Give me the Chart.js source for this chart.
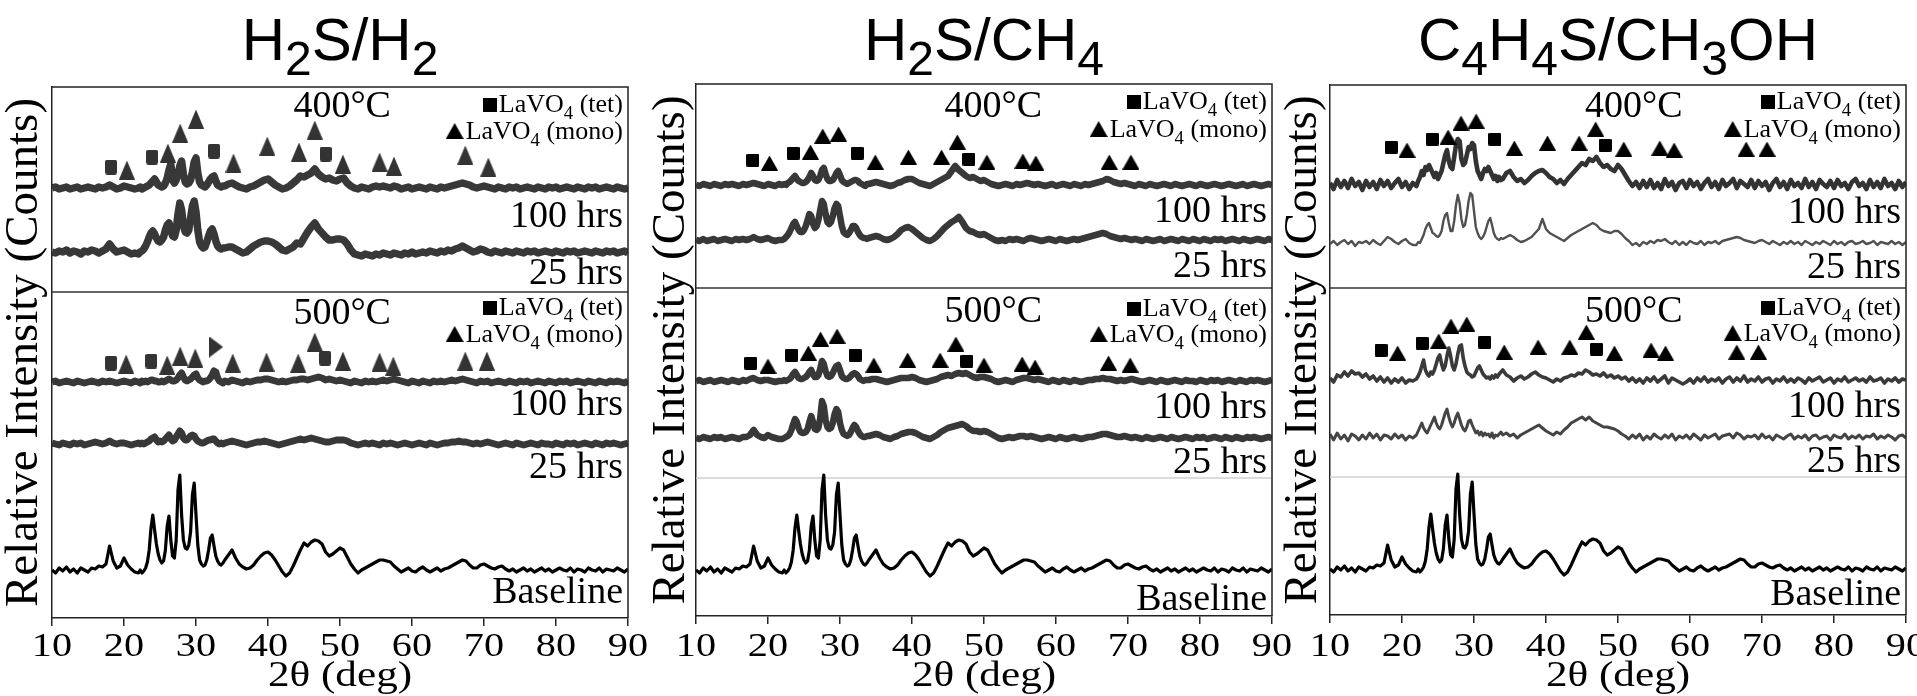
<!DOCTYPE html>
<html>
<head>
<meta charset="utf-8">
<title>LaVO4 XRD after sulfur exposure</title>
<script src="https://cdn.jsdelivr.net/npm/chart.js@4.4.0/dist/chart.umd.min.js"></script>
<style>
  html, body { margin: 0; padding: 0; background: #fff; overflow: hidden; }
  body { width: 1917px; height: 696px; position: relative; }
  canvas { position: absolute; top: 0; }
</style>
</head>
<body>
<canvas id="p1" width="660" height="696" style="left:0px"></canvas>
<canvas id="p2" width="660" height="696" style="left:636px"></canvas>
<canvas id="p3" width="660" height="696" style="left:1270px"></canvas>
<script>
// 2-theta grid shared by every pattern (finer steps through the main reflections)
const twoTheta = [
  10, 10.5, 11, 11.5, 12, 12.5, 13, 13.5, 14, 14.5,
  15, 15.5, 16, 16.5, 17, 17.5, 18, 18.5, 19, 19.5,
  20, 20.5, 21, 21.5,
  22, 22.25, 22.5, 22.75, 23, 23.25, 23.5, 23.75, 24, 24.25,
  24.5, 24.75, 25, 25.25, 25.5, 25.75, 26, 26.25, 26.5, 26.75,
  27, 27.25, 27.5, 27.75, 28, 28.25, 28.5, 28.75, 29, 29.25,
  29.5, 29.75, 30, 30.25, 30.5, 30.75, 31, 31.25, 31.5, 31.75,
  32, 32.25, 32.5, 32.75, 33, 33.25, 33.5, 33.75,
  34, 34.5, 35, 35.5, 36, 36.5, 37, 37.5, 38, 38.5,
  39, 39.5, 40, 40.5, 41, 41.5, 42, 42.5, 43, 43.5,
  44, 44.5, 45, 45.5, 46, 46.5, 47, 47.5, 48, 48.5,
  49, 49.5, 50, 50.5, 51, 51.5, 52, 52.5, 53, 53.5,
  54, 54.5, 55, 55.5, 56, 56.5, 57, 57.5, 58, 58.5,
  59, 59.5, 60, 60.5, 61, 61.5, 62, 62.5, 63, 63.5,
  64, 64.5, 65, 65.5, 66, 66.5, 67, 67.5, 68, 68.5,
  69, 69.5, 70, 70.5, 71, 71.5, 72, 72.5, 73, 73.5,
  74, 74.5, 75, 75.5, 76, 76.5, 77, 77.5, 78, 78.5,
  79, 79.5, 80, 80.5, 81, 81.5, 82, 82.5, 83, 83.5,
  84, 84.5, 85, 85.5, 86, 86.5, 87, 87.5, 88, 88.5,
  89, 89.5, 90
];
const xTicks = [10, 20, 30, 40, 50, 60, 70, 80, 90];
const xTickLabels = ['10', '20', '30', '40', '50', '60', '70', '80', '90'];

// fresh (unexposed) LaVO4 pattern, same in all three panels
const freshLaVO4 = [
  0,-3,2,-1,3,-2,1,-3,2,0,
  -2,2,1,4,3,6,24,9,2,4,
  12,5,1,-2,
  -3,0,-3,-1,2,8,20,42,55,40,
  26,16,10,7,9,20,44,54,30,14,
  12,30,80,95,55,30,22,21,25,38,
  75,87,55,25,10,6,4,5,10,20,
  32,35,24,14,9,6,5,7,
  10,15,20,12,6,3,1,2,5,10,
  14,17,18,15,10,4,-2,-6,-3,4,
  12,20,27,24,28,30,29,26,18,14,
  16,19,22,20,13,6,1,-3,0,2,
  4,6,8,10,10,9,8,4,1,-2,
  0,2,-1,-2,1,3,0,-2,0,2,
  -1,1,2,4,6,8,10,9,5,2,
  2,5,6,4,2,1,3,4,1,-1,
  1,-2,0,2,-1,1,-2,0,2,-1,
  1,-2,0,2,0,-1,2,-2,1,0,
  -2,2,0,-1,2,-2,1,0,-1,2,
  0,-2,1
];

// H2S/H2 exposure
const h2_400_100 = [
  0,1,-1,0,1,-1,0,1,-1,0,
  1,0,-1,1,0,1,3,1,-1,0,
  2,1,0,-1,
  0,1,-1,0,1,2,3,5,7,9,
  6,3,2,1,2,5,10,18,24,8,
  5,8,14,22,27,14,6,4,5,8,
  16,26,30,15,6,3,2,1,3,6,
  9,11,12,7,3,2,1,2,
  2,4,5,3,1,0,-1,1,2,4,
  6,8,9,6,3,1,-1,0,2,5,
  8,12,11,13,15,19,14,11,9,10,
  8,7,9,10,5,2,0,-1,1,0,
  -1,1,2,1,2,1,0,2,1,-1,
  0,1,-1,0,1,0,-1,1,0,-1,
  1,0,1,2,3,4,5,4,3,1,
  0,1,2,1,0,-1,1,0,-1,1,
  0,1,-1,0,1,0,-1,1,0,-1,
  1,0,1,-1,0,1,0,-1,1,0,
  -1,1,0,1,-1,0,1,0,-1,1,
  0,-1,0
];
const h2_400_25 = [
  0,-1,1,0,2,-1,1,0,-2,1,
  0,2,1,-1,1,3,8,3,0,1,
  2,0,-2,-1,
  -2,0,1,3,6,10,15,19,21,18,
  14,11,10,12,15,22,27,29,22,16,
  15,22,38,49,42,26,20,19,22,34,
  46,51,40,22,10,6,4,5,10,16,
  21,23,18,11,6,4,3,4,
  4,5,5,3,1,-1,0,3,6,8,
  10,11,11,10,8,5,2,1,3,5,
  9,8,14,20,25,29,23,19,15,12,
  12,13,13,12,8,2,-2,-3,-4,-2,
  -3,-4,-2,-3,-1,-2,-3,-1,-2,-3,
  -1,-2,0,-2,-1,0,-1,1,0,-1,
  1,0,2,1,3,4,6,4,2,0,
  1,3,2,0,-1,1,0,-1,1,0,
  -1,1,0,-1,1,0,1,-1,0,1,
  0,-1,1,0,-1,1,0,1,-1,0,
  1,0,-1,1,0,-1,1,0,1,-1,
  0,1,-1
];
const h2_500_100 = [
  0,1,-1,0,1,0,-1,1,0,-1,
  0,1,0,-1,1,0,1,0,-1,0,
  1,0,-1,1,
  0,-1,1,0,1,0,1,2,2,1,
  1,0,0,1,0,1,2,3,2,1,
  1,2,4,7,9,5,2,1,2,3,
  5,7,8,4,2,1,0,1,1,2,
  4,7,11,10,4,1,0,-1,
  1,0,2,1,0,-1,1,0,1,2,
  2,3,3,2,1,0,1,0,1,2,
  2,3,3,2,3,4,5,4,2,3,
  2,1,2,1,0,-1,1,0,-1,1,
  0,1,0,1,2,1,2,3,2,1,
  0,-1,1,0,-1,1,0,-1,1,0,
  1,0,1,2,1,2,3,2,1,0,
  -1,1,0,1,-1,0,1,0,-1,1,
  0,-1,1,0,1,-1,0,1,0,-1,
  1,0,-1,1,0,1,-1,0,1,0,
  -1,1,0,-1,1,0,-1,1,0,1,
  0,-1,1
];
const h2_500_25 = [
  1,0,-1,1,0,-1,1,0,1,-1,
  0,1,2,1,0,1,3,1,0,1,
  1,0,-1,0,
  1,0,1,0,1,2,3,5,6,7,
  4,2,3,2,3,5,7,9,5,3,
  4,7,10,13,11,6,4,4,6,8,
  9,8,5,3,2,1,1,2,3,4,
  4,5,5,3,1,0,1,0,
  1,2,3,2,1,0,-1,0,1,2,
  2,3,2,1,0,-1,0,1,2,3,
  4,5,4,5,6,5,4,3,2,2,
  3,4,4,4,3,1,0,-1,0,1,
  0,1,0,-1,1,0,1,0,-1,0,
  1,0,-1,0,1,0,-1,1,0,-1,
  0,1,1,2,2,3,2,2,1,0,
  1,0,1,2,1,0,-1,0,1,0,
  -1,1,0,-1,0,1,0,-1,1,0,
  0,-1,1,0,-1,1,0,1,-1,0,
  1,0,-1,1,0,-1,1,0,1,0,
  -1,0,1
];

// H2S/CH4 exposure
const ch4_400_100 = [
  0,-1,1,0,-1,1,0,-1,1,0,
  1,0,-1,1,0,1,2,1,0,-1,
  1,0,-1,1,
  0,1,0,2,3,5,7,9,6,4,
  3,2,2,3,5,8,12,9,5,4,
  5,9,15,17,11,6,4,4,5,8,
  12,14,10,5,3,2,1,2,3,4,
  5,5,4,2,1,0,-1,1,
  1,2,3,2,1,0,-1,0,2,3,
  5,6,6,4,2,1,0,-1,1,3,
  5,7,9,14,19,15,12,9,7,8,
  6,4,5,3,1,0,-1,0,1,0,
  -1,1,0,1,2,1,0,1,0,-1,
  0,1,-1,0,1,0,-1,1,0,-1,
  1,0,1,2,3,4,6,5,3,2,
  1,2,1,0,-1,1,0,-1,1,0,
  -1,0,1,0,-1,1,0,-1,0,1,
  0,-1,1,0,-1,0,1,0,-1,0,
  1,0,-1,0,1,-1,0,1,0,-1,
  0,1,0
];
const ch4_400_25 = [
  0,-1,1,-1,0,1,-1,0,1,0,
  -1,1,0,1,0,1,3,1,0,1,
  2,0,-1,0,
  0,1,3,5,8,12,16,18,14,10,
  8,8,10,14,20,26,24,16,12,14,
  20,30,39,36,26,18,16,18,24,32,
  36,34,24,14,8,6,5,7,10,14,
  14,12,8,5,3,2,2,1,
  2,3,4,3,1,0,1,3,6,10,
  12,13,11,8,5,2,0,-1,1,4,
  8,12,15,18,20,23,18,12,9,8,
  6,5,6,4,2,0,-1,0,-1,1,
  0,1,0,-1,1,2,1,0,-1,0,
  1,0,-1,1,0,-1,0,1,0,1,
  2,3,4,5,6,7,6,4,3,2,
  1,2,1,0,1,0,-1,1,0,-1,
  0,1,-1,0,1,0,-1,1,0,-1,
  1,0,-1,1,0,-1,1,0,1,-1,
  0,1,0,-1,1,0,-1,0,1,0,
  -1,1,0
];
const ch4_500_100 = [
  0,1,-1,0,1,-1,0,1,0,-1,
  1,0,-1,1,0,2,3,1,0,1,
  1,0,-1,0,
  0,1,0,1,2,4,7,9,6,3,
  2,2,3,4,6,9,11,7,4,4,
  6,12,20,17,10,5,4,5,8,12,
  15,16,11,5,3,2,2,3,5,7,
  8,7,5,2,1,0,1,1,
  1,2,2,1,0,-1,0,1,2,3,
  3,3,4,3,1,0,-1,0,1,2,
  4,5,6,5,7,8,7,8,6,4,
  3,4,4,3,2,0,-1,0,1,0,
  -1,1,2,3,3,2,1,2,1,0,
  -1,1,0,-1,1,0,-1,1,0,-1,
  0,1,1,2,2,3,2,2,1,0,
  1,0,1,2,1,0,-1,0,1,0,
  -1,1,0,-1,0,1,0,-1,1,0,
  0,-1,1,0,-1,1,0,1,-1,0,
  1,0,-1,1,0,-1,1,0,1,0,
  -1,0,1
];
const ch4_500_25 = [
  0,-1,1,0,-1,1,0,1,-1,0,
  1,0,-1,1,1,3,8,3,1,0,
  3,1,0,-1,
  -1,0,1,2,4,8,14,19,16,10,
  6,5,5,6,9,16,22,16,9,8,
  10,20,37,32,18,11,9,10,15,24,
  29,26,15,8,4,3,2,3,6,10,
  13,11,7,4,2,1,1,2,
  2,3,4,3,1,0,-1,1,2,4,
  5,6,6,5,3,1,0,-1,1,3,
  6,8,10,11,12,13,14,12,9,7,
  7,6,7,6,4,2,0,-1,0,1,
  0,1,2,2,1,2,1,0,-1,0,
  1,0,-1,1,0,-1,0,1,0,-1,
  0,1,1,2,3,4,4,3,2,1,
  1,2,1,0,1,0,-1,1,0,-1,
  0,1,0,-1,1,0,-1,0,1,0,
  -1,1,0,1,-1,0,1,0,-1,1,
  0,-1,1,0,-1,1,0,1,0,-1,
  0,1,0
];

// C4H4S/CH3OH exposure
const thio_400_100 = [
  2,-4,5,-2,4,-3,6,-1,3,-5,
  4,-2,3,-4,5,-1,4,-3,2,6,
  -2,3,-4,2,
  -1,4,8,14,10,18,15,20,16,12,
  8,12,6,10,14,22,30,35,24,18,
  16,28,40,46,44,26,20,22,30,38,
  36,42,40,24,14,10,6,12,16,14,
  18,14,10,6,9,4,8,5,
  6,12,14,8,4,6,2,5,9,12,
  14,15,12,8,6,2,5,1,6,10,
  14,18,22,20,26,24,28,22,18,20,
  16,14,20,16,10,4,-1,3,-3,4,
  -2,5,-3,2,-4,6,-1,3,-5,2,
  4,-3,5,-1,3,-4,2,6,-2,3,
  -4,5,-1,2,6,-3,4,1,-2,5,
  -3,4,-1,3,-5,2,6,-2,3,-4,
  5,-1,2,-3,6,-2,3,-4,5,1,
  -2,4,-3,5,-1,2,-4,3,6,-1,
  2,-4,5,-2,3,-3,6,-1,2,-4,
  4,-2,3
];
const thio_400_25 = [
  -1,2,-2,1,3,-1,2,-3,1,0,
  2,-1,3,0,-2,2,6,4,1,-1,
  2,4,0,-2,
  -2,1,0,4,8,14,18,20,15,10,
  9,7,6,8,12,22,28,30,20,12,
  12,22,38,48,40,24,16,18,28,42,
  50,48,32,16,10,6,4,6,10,16,
  22,25,18,10,6,4,3,5,
  4,6,8,6,3,1,2,4,6,10,
  14,24,14,10,8,6,4,2,5,8,
  10,12,14,16,18,20,18,14,12,11,
  10,12,12,9,5,2,-2,0,-3,1,
  -1,2,0,3,2,4,1,-1,2,-2,
  1,-2,2,0,-1,2,-2,1,0,2,
  -1,2,3,4,5,6,5,3,2,1,
  0,2,3,1,-1,2,0,-2,1,-1,
  2,-1,1,-2,2,0,-2,1,-1,2,
  0,-2,2,-1,1,-2,1,2,-1,0,
  2,-1,0,2,-2,1,0,-1,2,-1,
  1,-2,1
];
const thio_500_100 = [
  2,-2,5,3,8,4,9,6,7,3,
  6,1,4,-1,3,-2,2,-3,1,-2,
  2,-3,0,-1,
  1,4,8,14,20,10,6,4,8,6,
  10,16,22,25,16,10,14,24,32,24,
  14,10,16,26,34,35,22,14,8,6,
  5,3,4,8,12,14,10,6,4,2,
  3,1,4,2,5,3,6,8,
  10,5,3,-1,2,4,1,3,6,8,
  5,3,2,0,-2,1,-1,2,3,5,
  4,7,6,10,8,5,6,4,7,3,
  5,2,4,1,3,-1,2,-2,1,-3,
  2,-1,3,-2,1,4,-3,2,0,-2,
  -4,-2,1,-3,2,-1,3,-2,1,-1,
  2,-3,1,3,-2,2,-1,4,-2,1,
  -1,3,-2,1,2,-3,1,-1,3,-2,
  1,-2,2,0,-3,2,-1,1,3,-2,
  0,2,-3,1,-1,3,-2,0,2,-1,
  1,-2,3,-1,0,2,-3,1,-1,2,
  -2,1,0
];
const thio_500_25 = [
  3,-3,4,-2,2,-4,3,1,-3,2,
  -2,4,-1,3,-3,2,1,-2,3,-1,
  2,-3,1,-1,
  2,6,10,14,9,6,4,8,12,16,
  20,14,10,8,12,18,24,28,20,14,
  10,14,20,24,18,12,8,6,10,16,
  17,12,8,4,6,2,5,1,4,2,
  3,0,4,-1,2,1,3,5,
  2,4,1,3,-1,2,4,6,8,10,
  12,9,6,4,2,5,3,7,10,14,
  16,18,20,17,20,16,14,12,10,10,
  9,8,6,3,1,-2,2,-1,3,-3,
  1,-2,3,0,-2,2,-1,3,-3,1,
  -1,2,-2,3,0,-3,2,-1,1,3,
  -2,1,2,3,-1,4,2,-2,1,0,
  2,-2,3,-1,1,-3,2,0,-2,1,
  3,-2,1,-1,2,-3,1,2,-2,0,
  1,-3,2,0,-1,3,-2,1,-1,2,
  -2,1,0,3,-2,1,-1,2,0,-3,
  1,2,-1
];

// reflection markers: LaVO4 tetragonal (tet) and monoclinic (mono)
const h2Tet400X = [18.2, 23.9, 32.5, 48.0];
const h2Tet400Y = [451, 461, 467, 464];
const h2Mono400X = [20.4, 26.1, 27.8, 30.0, 35.2, 39.9, 44.3, 46.5, 50.4, 55.5, 57.5, 67.4, 70.6];
const h2Mono400Y = [448, 465, 485, 499, 455, 472, 466, 488, 454, 456, 452, 463, 451];
const h2Tet500X = [18.2, 23.8, 47.9];
const h2Tet500Y = [255, 257, 260];
const h2Mono500X = [20.3, 26.0, 27.8, 29.9, 35.1, 39.8, 44.2, 46.5, 50.4, 55.5, 57.4, 67.4, 70.4];
const h2Mono500Y = [254, 253, 262, 260, 255, 256, 255, 276, 257, 256, 252, 257, 257];
const h2Other500X = [32.8];
const h2Other500Y = [271];

const ch4Tet400X = [17.9, 23.5, 32.4, 47.9];
const ch4Tet400Y = [456, 463, 463, 457];
const ch4Mono400X = [20.2, 25.9, 27.6, 29.8, 34.9, 39.5, 44.1, 46.3, 50.4, 55.4, 57.2, 67.4, 70.4];
const ch4Mono400Y = [453, 464, 480, 482, 454, 459, 459, 474, 454, 455, 453, 454, 454];
const ch4Tet500X = [17.6, 23.3, 32.1, 47.6];
const ch4Tet500Y = [253, 261, 261, 255];
const ch4Mono500X = [20.0, 25.6, 27.3, 29.6, 34.7, 39.4, 43.9, 46.1, 50.0, 55.3, 57.1, 67.3, 70.3];
const ch4Mono500Y = [250, 263, 277, 280, 251, 256, 256, 272, 251, 252, 249, 253, 251];

const thioTet400X = [18.5, 24.2, 32.9, 48.2];
const thioTet400Y = [468, 476, 476, 470];
const thioMono400X = [20.7, 26.4, 28.2, 30.3, 35.6, 40.2, 44.6, 46.9, 50.8, 55.8, 57.8, 67.8, 70.7];
const thioMono400Y = [465, 478, 492, 494, 467, 472, 472, 486, 466, 467, 465, 466, 466];
const thioTet500X = [17.1, 22.8, 31.5, 47.0];
const thioTet500Y = [265, 272, 273, 266];
const thioMono500X = [19.4, 25.1, 26.8, 29.0, 34.2, 38.9, 43.3, 45.6, 49.5, 54.6, 56.6, 66.5, 69.5];
const thioMono500Y = [262, 274, 289, 291, 263, 268, 268, 283, 262, 265, 262, 263, 263];

// stacking offsets: baseline, 500°C 25 h, 500°C 100 h, 400°C 25 h, 400°C 100 h
const h2Offsets = [48, 174, 236, 366, 430];
const ch4Offsets = [46, 178, 235, 376, 431];
const thioOffsets = [46, 178, 235, 372, 430];

const serif = '"Liberation Serif", "Times New Roman", serif';
const sans = '"Liberation Sans", Arial, sans-serif';
const yTitle = 'Relative Intensity (Counts)';

function glyph(shape, w, h, color, r) {
  const c = document.createElement('canvas');
  c.width = w; c.height = h;
  const g = c.getContext('2d');
  g.fillStyle = color;
  g.beginPath();
  if (shape === 'square') {
    if (r && g.roundRect) g.roundRect(0, 0, w, h, r); else g.rect(0, 0, w, h);
  } else if (shape === 'up') {
    g.moveTo(w / 2, 0); g.lineTo(w, h); g.lineTo(0, h); g.closePath();
  } else {
    g.moveTo(0, 0); g.lineTo(w, h / 2); g.lineTo(0, h); g.closePath();
  }
  g.fill();
  return c;
}

const greySq = glyph('square', 12, 15, '#333', 2.5);
const greyTri = glyph('up', 16, 19, '#333');
const greyRight = glyph('right', 14, 21, '#333');
const blackSq = glyph('square', 13, 13, '#000', 1.5);
const blackTri = glyph('up', 17, 15, '#000');
const keySq = glyph('square', 14, 14, '#000');
const keyTri = glyph('up', 18, 16, '#000');

function richWidth(ctx, parts, size, fam, sub) {
  let w = 0;
  parts.forEach(([txt, isSub]) => {
    ctx.font = `${isSub ? size * sub : size}px ${fam}`;
    w += ctx.measureText(txt).width;
  });
  return w;
}

function drawRich(ctx, parts, x, y, size, fam, align, sub = 0.72, drop = 0.25) {
  const w = richWidth(ctx, parts, size, fam, sub);
  let cx = align === 'center' ? x - w / 2 : align === 'right' ? x - w : x;
  ctx.textAlign = 'left';
  ctx.textBaseline = 'alphabetic';
  parts.forEach(([txt, isSub]) => {
    ctx.font = `${isSub ? size * sub : size}px ${fam}`;
    ctx.fillText(txt, cx, isSub ? y + size * drop : y);
    cx += ctx.measureText(txt).width;
  });
}

// text set wider than its font, as on the axis labels
function drawWide(ctx, txt, x, y, size, stretch) {
  ctx.save();
  ctx.translate(x, y);
  ctx.scale(stretch, 1);
  ctx.font = `${size}px ${serif}`;
  ctx.textAlign = 'center';
  ctx.textBaseline = 'alphabetic';
  ctx.fillText(txt, 0, 0);
  ctx.restore();
}

function drawKeyRow(ctx, which, right, base, size) {
  const parts = [['LaVO'], ['4', 1], [which === 'tet' ? ' (tet)' : ' (mono)']];
  const mark = which === 'tet' ? keySq : keyTri;
  const tw = richWidth(ctx, parts, size, serif, 0.72);
  const left = right - tw - mark.width - 2;
  ctx.drawImage(mark, left, base - mark.height);
  drawRich(ctx, parts, left + mark.width + 2, base, size, serif, 'left', 0.72, 0.25);
}

function hrsNotes(v400, v500) {
  return [
    {text: '400°C', at: v400.at, y: v400.temp},
    {key: 'tet', y: v400.tet}, {key: 'mono', y: v400.mono},
    {text: '100 hrs', y: v400.h100}, {text: '25 hrs', y: v400.h25},
    {text: '500°C', at: v500.at, y: v500.temp},
    {key: 'tet', y: v500.tet}, {key: 'mono', y: v500.mono},
    {text: '100 hrs', y: v500.h100}, {text: '25 hrs', y: v500.h25},
    {text: 'Baseline', y: v500.base}
  ];
}

function stack(sets, offs) {
  // sets: [baseline, 500/25, 500/100, 400/25, 400/100] with their styles
  return sets.map((s, i) => ({values: s[0], offset: offs[i], color: s[1], width: s[2]}));
}

const specs = {
  p1: {
    left: 0, area: [52, 87, 628, 618], yTitleX: 25,
    title: [['H'], ['2', 1], ['S/H'], ['2', 1]],
    traces: stack([
      [freshLaVO4, '#000', 3.2],
      [h2_500_25, '#383838', 7],
      [h2_500_100, '#383838', 7],
      [h2_400_25, '#383838', 7.5],
      [h2_400_100, '#383838', 7.5]
    ], h2Offsets),
    marks: [
      [h2Tet400X, h2Tet400Y, greySq], [h2Mono400X, h2Mono400Y, greyTri],
      [h2Tet500X, h2Tet500Y, greySq], [h2Mono500X, h2Mono500Y, greyTri],
      [h2Other500X, h2Other500Y, greyRight]
    ],
    dividers: [{at: 326, color: '#333'}],
    notes: hrsNotes(
      {at: 50.3, temp: 501, tet: 515, mono: 488, h100: 391, h25: 334},
      {at: 50.3, temp: 294, tet: 312, mono: 285, h100: 203, h25: 140, base: 15})
  },
  p2: {
    left: 636, area: [696, 84, 1272, 616], yTitleX: 672,
    title: [['H'], ['2', 1], ['S/CH'], ['4', 1]],
    traces: stack([
      [freshLaVO4, '#000', 3.2],
      [ch4_500_25, '#383838', 6.5],
      [ch4_500_100, '#383838', 6.5],
      [ch4_400_25, '#383838', 6.5],
      [ch4_400_100, '#383838', 6.5]
    ], ch4Offsets),
    marks: [
      [ch4Tet400X, ch4Tet400Y, blackSq], [ch4Mono400X, ch4Mono400Y, blackTri],
      [ch4Tet500X, ch4Tet500Y, blackSq], [ch4Mono500X, ch4Mono500Y, blackTri]
    ],
    dividers: [{at: 328, color: '#333'}, {at: 138, color: '#d0d0d0'}],
    notes: hrsNotes(
      {at: 51.3, temp: 499, tet: 516, mono: 488, h100: 394, h25: 339},
      {at: 51.3, temp: 294, tet: 309, mono: 283, h100: 198, h25: 143, base: 6})
  },
  p3: {
    left: 1270, area: [1330, 85, 1906, 615], yTitleX: 1304,
    title: [['C'], ['4', 1], ['H'], ['4', 1], ['S/CH'], ['3', 1], ['OH']],
    traces: stack([
      [freshLaVO4, '#000', 3.2],
      [thio_500_25, '#444', 3],
      [thio_500_100, '#3a3a3a', 3.6],
      [thio_400_25, '#505050', 2.4],
      [thio_400_100, '#333', 4.6]
    ], thioOffsets),
    marks: [
      [thioTet400X, thioTet400Y, blackSq], [thioMono400X, thioMono400Y, blackTri],
      [thioTet500X, thioTet500Y, blackSq], [thioMono500X, thioMono500Y, blackTri]
    ],
    dividers: [{at: 327, color: '#333'}, {at: 138, color: '#d0d0d0'}],
    notes: hrsNotes(
      {at: 52.2, temp: 498, tet: 515, mono: 487, h100: 392, h25: 337},
      {at: 52.2, temp: 293, tet: 309, mono: 283, h100: 198, h25: 143, base: 10})
  }
};

const panelDecor = {
  id: 'panelDecor',
  beforeDatasetsDraw(chart) {
    const p = specs[chart.canvas.id];
    const {ctx, chartArea: a, scales: {y}} = chart;
    ctx.save();
    ctx.lineWidth = 1.5;
    p.dividers.forEach(d => {
      const py = y.getPixelForValue(d.at);
      ctx.strokeStyle = d.color;
      ctx.beginPath(); ctx.moveTo(a.left, py); ctx.lineTo(a.right, py); ctx.stroke();
    });
    ctx.restore();
  },
  afterDraw(chart) {
    const p = specs[chart.canvas.id];
    const {ctx, chartArea: a, scales: {x, y}} = chart;
    const mid = (a.left + a.right) / 2;
    ctx.save();
    // close the frame on top and right
    ctx.strokeStyle = '#222';
    ctx.lineWidth = 1.5;
    ctx.beginPath();
    ctx.moveTo(a.left, a.top); ctx.lineTo(a.right, a.top); ctx.lineTo(a.right, a.bottom);
    ctx.stroke();

    ctx.fillStyle = '#000';
    drawRich(ctx, p.title, mid, 60, 60, sans, 'center', 0.8, 0.25);

    // x tick labels and axis title
    x.ticks.forEach(t => {
      const i = xTicks.indexOf(t.value);
      drawWide(ctx, xTickLabels[i], x.getPixelForValue(t.value), 656, 33, 1.22);
    });
    drawWide(ctx, '2θ (deg)', mid, 686, 36, 1.2);

    ctx.save();
    ctx.translate(p.yTitleX - p.left, (a.top + a.bottom) / 2);
    ctx.rotate(-Math.PI / 2);
    ctx.font = `47px ${serif}`;
    ctx.textAlign = 'center';
    ctx.textBaseline = 'middle';
    ctx.fillText(yTitle, 0, 0);
    ctx.restore();

    p.notes.forEach(n => {
      if (n.key) {
        drawKeyRow(ctx, n.key, a.right - 5, y.getPixelForValue(n.y) + 9, 26);
      } else if (n.at !== undefined) {
        drawRich(ctx, [[n.text]], x.getPixelForValue(n.at), y.getPixelForValue(n.y), 38, serif, 'center');
      } else {
        drawRich(ctx, [[n.text]], a.right - 5, y.getPixelForValue(n.y), 38, serif, 'right');
      }
    });
    ctx.restore();
  }
};

Object.keys(specs).forEach(id => {
  const p = specs[id];
  const canvas = document.getElementById(id);
  const cw = canvas.width;
  const datasets = [];
  p.marks.forEach(([xs, ys, mark]) => datasets.push({
    data: xs.map((v, i) => ({x: v, y: ys[i]})),
    showLine: false,
    pointStyle: mark,
    pointRadius: 8,
    pointHoverRadius: 8,
    order: 0
  }));
  p.traces.forEach(t => {
    if (t.values.length !== twoTheta.length) console.error(id, 'trace length', t.values.length);
    datasets.push({
      data: twoTheta.map((v, i) => ({x: v, y: t.values[i] + t.offset})),
      borderColor: t.color,
      borderWidth: t.width,
      borderJoinStyle: 'round',
      pointRadius: 0,
      tension: 0,
      fill: false,
      order: 1
    });
  });

  new Chart(canvas, {
    type: 'line',
    data: {datasets},
    options: {
      responsive: false,
      animation: false,
      events: [],
      layout: {padding: {left: p.area[0] - p.left, right: p.left + cw - p.area[2], top: p.area[1], bottom: 0}},
      plugins: {legend: {display: false}, tooltip: {enabled: false}},
      scales: {
        x: {
          type: 'linear', min: 10, max: 90,
          afterBuildTicks: s => { s.ticks = xTicks.map(v => ({value: v})); },
          afterFit: s => { s.height = 696 - p.area[3]; },
          ticks: {display: false, maxRotation: 0, autoSkip: false},
          grid: {drawOnChartArea: false, drawTicks: true, tickLength: 8, color: '#222', lineWidth: 1.5},
          border: {color: '#222', width: 1.5}
        },
        y: {
          min: 0, max: p.area[3] - p.area[1],
          afterFit: s => { s.width = 0; },
          ticks: {display: false},
          grid: {display: false, drawTicks: false},
          border: {color: '#222', width: 1.5}
        }
      }
    },
    plugins: [panelDecor]
  });
});
</script>
</body>
</html>
